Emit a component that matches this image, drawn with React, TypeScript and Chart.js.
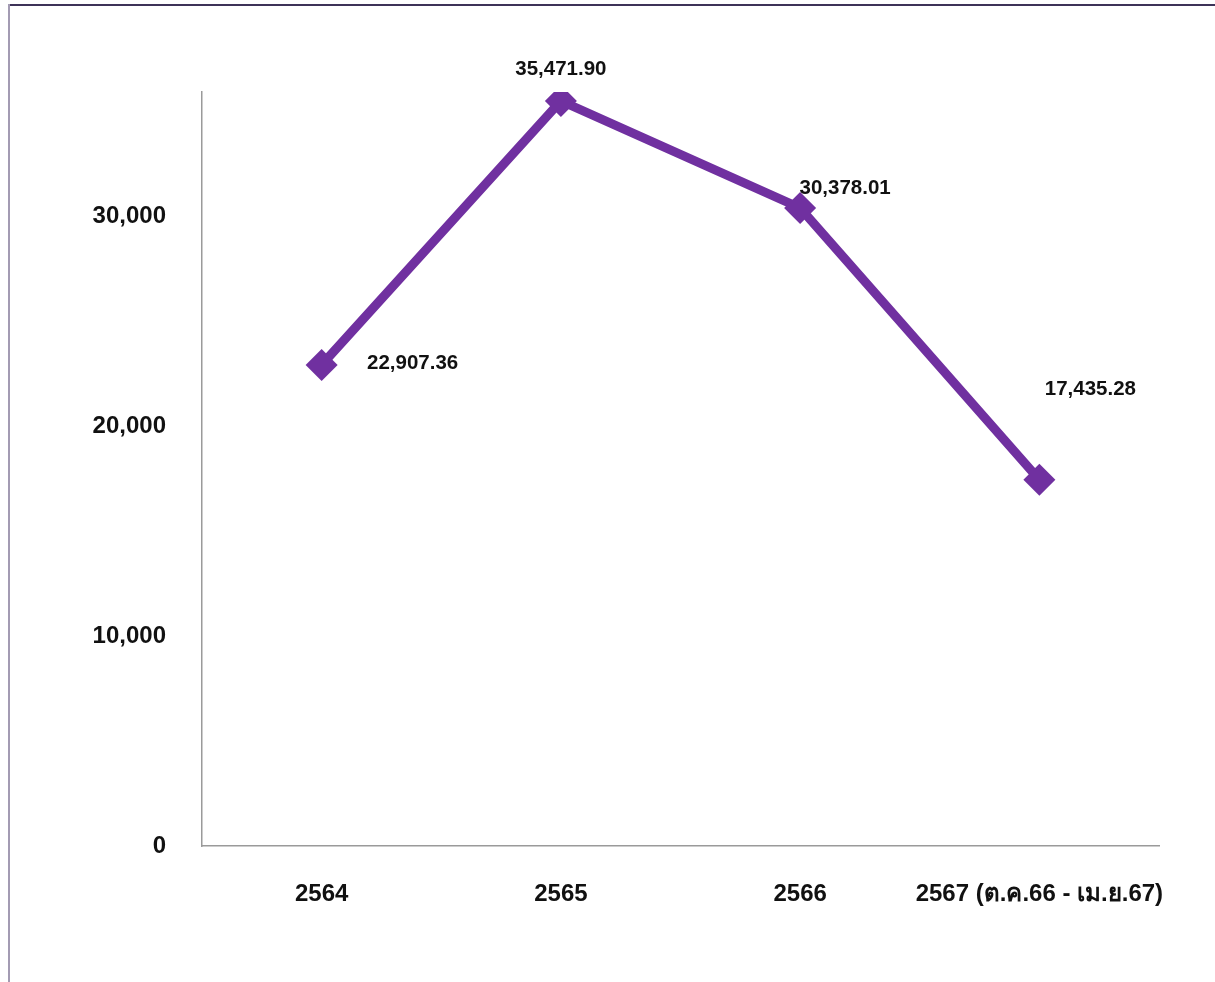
import React, { useEffect, useRef } from "react";
import { Chart, registerables } from "chart.js";

Chart.register(...registerables);

const categories = ["2564", "2565", "2566", "2567 (ต.ค.66 - เม.ย.67)"];
const values = [22907.36, 35471.9, 30378.01, 17435.28];
const valueLabels = ["22,907.36", "35,471.90", "30,378.01", "17,435.28"];
const yTickValues = [0, 10000, 20000, 30000];
const yMax = 35900;

const FONT = 'Arial, "Liberation Sans", "Noto Sans", sans-serif';

const labelOffsets = [
  [91, -2],
  [0, -32],
  [45, -20],
  [51, -90],
];

const dataLabelPlugin = {
  id: "dataLabels",
  afterDatasetsDraw(chart: any) {
    const meta = chart.getDatasetMeta(0);
    const ctx = chart.ctx;
    ctx.save();
    ctx.font = `bold 20.5px ${FONT}`;
    ctx.fillStyle = "#111";
    ctx.textAlign = "center";
    ctx.textBaseline = "middle";
    meta.data.forEach((pt: any, i: number) => {
      const [dx, dy] = labelOffsets[i];
      ctx.fillText(valueLabels[i], pt.x + dx, pt.y + dy);
    });
    ctx.restore();
  },
};

const framePlugin = {
  id: "frame",
  beforeDraw(chart: any) {
    const ctx = chart.ctx;
    ctx.save();
    ctx.fillStyle = "#ffffff";
    ctx.fillRect(0, 0, chart.width, chart.height);
    ctx.strokeStyle = "#3d3358";
    ctx.lineWidth = 2;
    ctx.beginPath();
    ctx.moveTo(9, 5);
    ctx.lineTo(chart.width, 5);
    ctx.stroke();
    ctx.strokeStyle = "#a39bb3";
    ctx.beginPath();
    ctx.moveTo(9, 4);
    ctx.lineTo(9, chart.height);
    ctx.stroke();
    ctx.restore();
  },
};

export default function App() {
  const ref = useRef<HTMLCanvasElement>(null);
  useEffect(() => {
    if (!ref.current) return;
    const chart = new Chart(ref.current, {
      type: "line",
      data: {
        labels: categories,
        datasets: [
          {
            data: values,
            borderColor: "#7030A0",
            backgroundColor: "#7030A0",
            borderWidth: 9,
            pointStyle: "rectRot",
            pointRadius: 16,
            pointBorderWidth: 0,
            pointBackgroundColor: "#7030A0",
            tension: 0,
          },
        ],
      },
      options: {
        animation: false,
        responsive: false,
        maintainAspectRatio: false,
        layout: { padding: { top: 92, right: 56, left: 0, bottom: 0 } },
        plugins: {
          legend: { display: false },
          tooltip: { enabled: false },
        },
        scales: {
          x: {
            offset: true,
            grid: { display: false, drawTicks: false },
            border: { display: true, color: "#9a9a9a", width: 1.5 },
            ticks: {
              padding: 34,
              color: "#111",
              font: { family: FONT, size: 24, weight: "bold" },
              maxRotation: 0,
              autoSkip: false,
            },
            afterFit(scale: any) {
              scale.height = 982 - 846;
            },
          },
          y: {
            min: 0,
            max: yMax,
            grid: { display: false, drawTicks: false },
            border: { display: true, color: "#9a9a9a", width: 1.5 },
            afterBuildTicks(scale: any) {
              scale.ticks = yTickValues.map((v) => ({ value: v }));
            },
            ticks: {
              padding: 36,
              color: "#111",
              font: { family: FONT, size: 24, weight: "bold" },
              callback: (v: any) => Number(v).toLocaleString("en-US"),
            },
            afterFit(scale: any) {
              scale.width = 202;
            },
          },
        },
      },
      plugins: [framePlugin, dataLabelPlugin],
    });
    return () => chart.destroy();
  }, []);
  return (
    <div style={{ position: "fixed", left: 0, top: 0, width: 1215, height: 982, background: "#fff" }}>
      <canvas ref={ref} width={1215} height={982} style={{ width: 1215, height: 982 }} />
    </div>
  );
}
